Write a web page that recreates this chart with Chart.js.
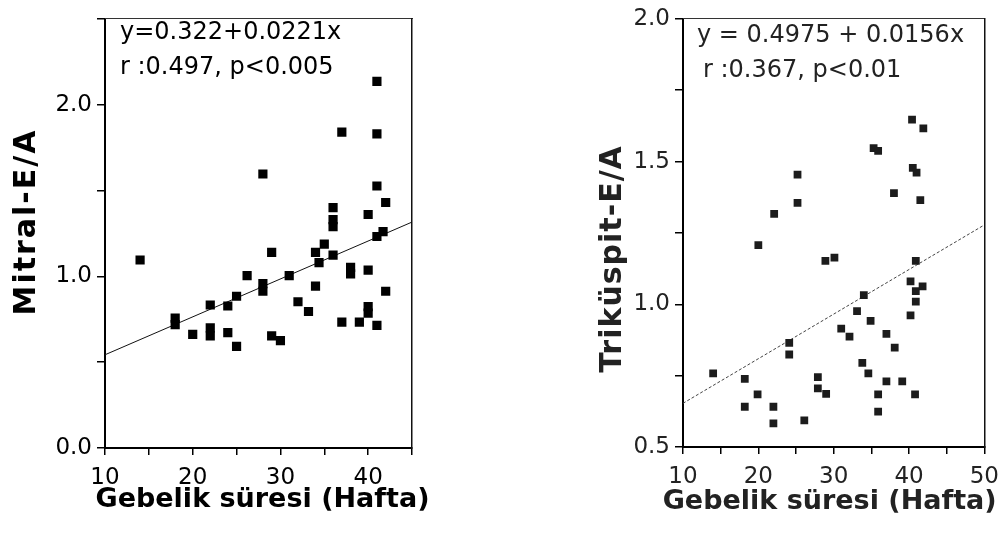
<!DOCTYPE html>
<html>
<head>
<meta charset="utf-8">
<script src="https://cdn.jsdelivr.net/npm/chart.js@4.4.1/dist/chart.umd.min.js"></script>
<style>
  html, body { margin: 0; padding: 0; background: #fff; }
  body { width: 1008px; height: 535px; position: relative; overflow: hidden; }
  canvas { position: absolute; top: 0; }
  #mitralChart { left: 0; }
  #trikChart { left: 560px; }
</style>
</head>
<body>
<canvas id="mitralChart" width="440" height="535"></canvas>
<canvas id="trikChart" width="448" height="535"></canvas>
<script>
// Mitral E/A vs gestational week (left panel)
const mitralWeeks = [14, 18, 18, 20, 22, 22, 22, 24, 24, 25, 25, 26.2, 28, 28, 28, 29, 29, 30, 31, 32, 33.2,
  34, 34, 34.4, 35, 36, 36, 36, 36, 37, 37, 38, 38, 39, 40, 40, 40, 40, 41, 41, 41, 41, 41, 41.7, 42, 42];
const mitralEA = [1.095, 0.757, 0.719, 0.662, 0.833, 0.70, 0.653, 0.827, 0.672, 0.884, 0.592, 1.004, 1.596, 0.957, 0.913, 1.14, 0.653, 0.625, 1.004, 0.852, 0.795,
  1.14, 0.943, 1.08, 1.188, 1.40, 1.33, 1.29, 1.124, 1.84, 0.733, 1.052, 1.014, 0.733, 1.36, 1.036, 0.824, 0.786, 2.135, 1.83, 1.526, 1.232, 0.714, 1.26, 1.43, 0.913];
const mitralFit = [[10, 0.543], [45, 1.316]];

// Tricuspid E/A vs gestational week (right panel)
const trikWeeks = [14, 18.2, 18.2, 19.9, 20, 22.1, 22, 22, 24.1, 24.1, 25.2, 25.2, 26.1, 27.9, 27.9, 29, 28.9, 30.1, 31, 32.1, 33.1,
  34, 33.8, 34.6, 34.9, 35.3, 35.9, 35.9, 35.9, 37, 37, 38, 38.1, 39.1, 40.4, 40.5, 41, 40.9, 40.2, 40.9, 40.9, 40.2, 41.8, 40.8, 41.9, 41.5];
const trikEA = [0.758, 0.739, 0.641, 0.684, 1.207, 1.317, 0.641, 0.583, 0.865, 0.824, 1.454, 1.355, 0.593, 0.745, 0.705, 0.686, 1.152, 1.163, 0.915, 0.887, 0.976,
  1.032, 0.795, 0.758, 0.942, 1.547, 1.537, 0.684, 0.624, 0.896, 0.730, 1.389, 0.848, 0.730, 1.647, 1.478, 1.461, 1.152, 1.080, 1.046, 1.009, 0.961, 1.063, 0.684, 1.616, 1.365];
const trikFit = [[10, 0.653], [50, 1.278]];

const xTitle = 'Gebelik süresi (Hafta)';
const mitralTitle = 'Mitral-E/A';
const trikTitle = 'Triküspit-E/A';
const mitralNotes = ['y=0.322+0.0221x', 'r :0.497, p<0.005'];
const trikNotes = ['y = 0.4975 + 0.0156x', 'r :0.367, p<0.01'];

const tickFont = { family: 'DejaVu Sans', size: 23 };

// draws the regression text and the axis titles
const notesPlugin = {
  id: 'notes',
  afterDraw(chart, args, opts) {
    const ctx = chart.ctx;
    const area = chart.chartArea;
    ctx.save();
    ctx.fillStyle = opts.color;
    ctx.font = '24px "DejaVu Sans"';
    ctx.textBaseline = 'middle';
    ctx.textAlign = 'left';
    opts.lines.forEach((t, i) => ctx.fillText(t, opts.lineX[i], opts.lineY[i]));

    // x title, allowed to run a bit wider than the plot
    ctx.textAlign = 'center';
    ctx.font = 'bold 27px "DejaVu Sans"';
    ctx.fillText(xTitle, (area.left + area.right) / 2 + opts.xTitleShift, opts.xTitleY);

    ctx.translate(opts.titleX, opts.titleY);
    ctx.rotate(-Math.PI / 2);
    ctx.font = 'bold 30px "DejaVu Sans"';
    ctx.letterSpacing = opts.titleSpacing + 'px';
    ctx.fillText(opts.title, 0, 0);
    ctx.restore();
  }
};

function makeChart(canvasId, cfg) {
  const pts = cfg.xs.map((x, i) => ({ x, y: cfg.ys[i] }));
  return new Chart(document.getElementById(canvasId), {
    type: 'scatter',
    data: {
      datasets: [
        {
          data: pts,
          pointStyle: 'rect',
          pointRadius: cfg.radius,
          backgroundColor: cfg.color,
          borderColor: cfg.color,
          borderWidth: 0
        },
        {
          type: 'line',
          data: cfg.fit.map(p => ({ x: p[0], y: p[1] })),
          borderColor: cfg.lineColor,
          borderWidth: 1,
          borderDash: cfg.lineDash,
          pointRadius: 0,
          fill: false
        }
      ]
    },
    options: {
      responsive: false,
      animation: false,
      layout: { padding: cfg.padding },
      plugins: {
        legend: { display: false },
        tooltip: { enabled: false },
        notes: cfg.notes
      },
      scales: {
        x: {
          type: 'linear',
          min: cfg.xMin, max: cfg.xMax,
          afterFit: s => { s.height = cfg.xHeight; },
          border: { color: '#000', width: 2 },
          grid: { drawOnChartArea: false, drawTicks: true, tickLength: 7, color: '#000', lineWidth: 1.5 },
          ticks: {
            stepSize: 5, autoSkip: false, maxRotation: 0, padding: 9,
            color: cfg.textColor, font: tickFont,
            callback: v => (v % 10 === 0 ? v : '')
          }
        },
        y: {
          type: 'linear',
          min: cfg.yMin, max: cfg.yMax,
          afterFit: s => { s.width = cfg.yWidth; },
          border: { color: '#000', width: 2 },
          grid: { drawOnChartArea: false, drawTicks: true, tickLength: 8, color: '#000', lineWidth: 1.5 },
          ticks: {
            stepSize: cfg.yStep, autoSkip: false, padding: 5,
            color: cfg.textColor, font: tickFont,
            callback: v => (cfg.yLabels.some(l => Math.abs(l - v) < 1e-6) ? v.toFixed(1) : '')
          }
        },
        xTop: {
          type: 'linear', position: 'top',
          min: cfg.xMin, max: cfg.xMax,
          afterFit: s => { s.height = 0; },
          grid: { display: false },
          ticks: { display: false },
          border: { color: '#333', width: 1, dash: [4, 2] }
        },
        yRight: {
          type: 'linear', position: 'right',
          min: cfg.yMin, max: cfg.yMax,
          afterFit: s => { s.width = 0; },
          grid: { display: false },
          ticks: { display: false },
          border: { color: '#111', width: 1.5, dash: [6, 1] }
        }
      }
    },
    plugins: [notesPlugin]
  });
}

makeChart('mitralChart', {
  xs: mitralWeeks, ys: mitralEA, fit: mitralFit,
  xMin: 10, xMax: 45, yMin: 0, yMax: 2.5, yStep: 0.5, yLabels: [0, 1, 2],
  color: '#000', radius: 6.5, lineColor: '#111', lineDash: [],
  textColor: '#000',
  padding: { left: 0, top: 10, right: 28, bottom: 0 },
  xHeight: 87, yWidth: 105,
  notes: {
    lines: mitralNotes, lineX: [120, 120], lineY: [33, 68], color: '#000',
    xTitleY: 500, xTitleShift: 4,
    title: mitralTitle, titleX: 27, titleY: 222, titleSpacing: 2
  }
});

makeChart('trikChart', {
  xs: trikWeeks, ys: trikEA, fit: trikFit,
  xMin: 10, xMax: 50, yMin: 0.5, yMax: 2.0, yStep: 0.25, yLabels: [0.5, 1, 1.5, 2],
  color: '#1c1c1c', radius: 5.5, lineColor: '#444', lineDash: [3, 2],
  textColor: '#222',
  padding: { left: 0, top: 13, right: 18, bottom: 0 },
  xHeight: 88, yWidth: 123,
  notes: {
    lines: trikNotes, lineX: [137, 143], lineY: [36, 71], color: '#222',
    xTitleY: 502, xTitleShift: -4,
    title: trikTitle, titleX: 53, titleY: 259, titleSpacing: 1
  }
});
</script>
</body>
</html>
